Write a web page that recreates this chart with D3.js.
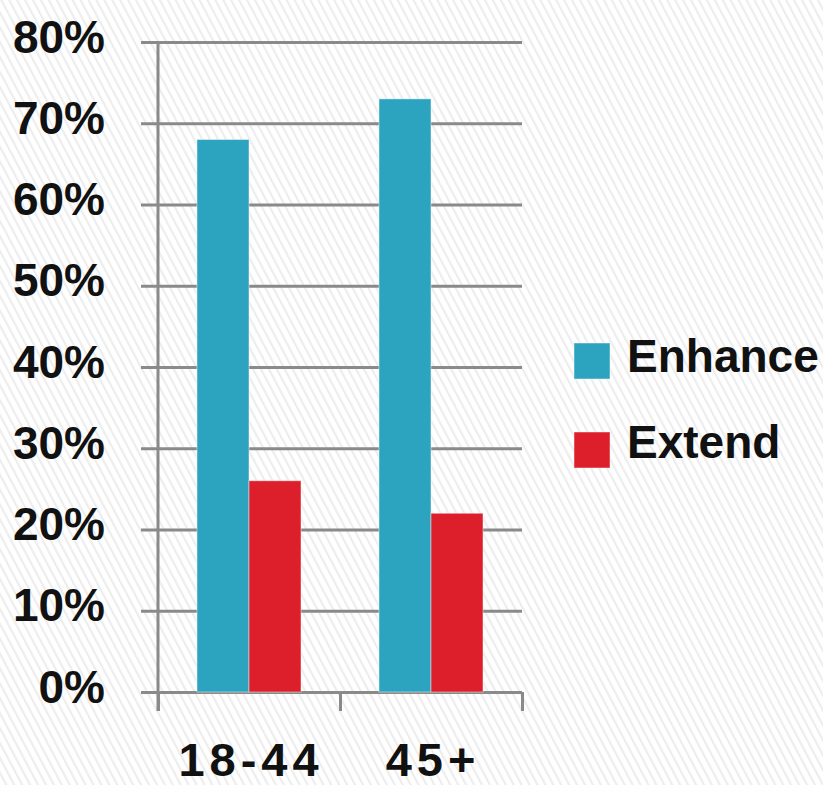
<!DOCTYPE html>
<html>
<head>
<meta charset="utf-8">
<script src="https://cdn.jsdelivr.net/npm/d3@7"></script>
<style>
  body { margin: 0; background: #fff; }
  text { font-family: "Liberation Sans", Arial, sans-serif; font-weight: bold; fill: #111; }
</style>
</head>
<body>
<div id="chart"></div>
<script>
// données
const ageGroups = ["18-44", "45+"];
const seriesNames = ["Enhance", "Extend"];
const enhanceValues = [0.68, 0.73];
const extendValues = [0.26, 0.22];
const yTicks = [0, 0.1, 0.2, 0.3, 0.4, 0.5, 0.6, 0.7, 0.8];
const seriesColors = ["#2ca3bf", "#dc1f2a"];

const width = 823;
const height = 785;

const svg = d3.select("#chart").append("svg")
  .attr("width", width)
  .attr("height", height);

// fond hachuré léger
const defs = svg.append("defs");
const pat = defs.append("pattern")
  .attr("id", "stripes")
  .attr("patternUnits", "userSpaceOnUse")
  .attr("width", 7)
  .attr("height", 7)
  .attr("patternTransform", "rotate(-28)");
pat.append("rect").attr("width", 7).attr("height", 7).attr("fill", "#fff");
pat.append("rect").attr("width", 2.2).attr("height", 7).attr("fill", "#ededed");

svg.append("rect")
  .attr("width", width)
  .attr("height", height)
  .attr("fill", "url(#stripes)");

const plotLeft = 158, plotRight = 522, plotTop = 42, plotBottom = 692;
const gridColor = "#8a8a8a";

const x = d3.scaleBand().domain(ageGroups).range([plotLeft, plotRight]);
const xInner = d3.scaleBand().domain(seriesNames).range([0, x.bandwidth()]).paddingOuter(0.75);
const y = d3.scaleLinear().domain([0, 0.8]).range([plotBottom, plotTop]);

// lignes de grille (avec petite graduation à gauche de l'axe)
const grid = svg.append("g")
  .attr("transform", `translate(${plotRight},0)`)
  .call(d3.axisLeft(y).tickValues(yTicks).tickSize(plotRight - 141).tickFormat(""));
grid.select(".domain").remove();
grid.selectAll("line").attr("stroke", gridColor).attr("stroke-width", 3);

// libellés de l'axe Y
const yLab = svg.append("g")
  .attr("transform", `translate(${plotLeft},0)`)
  .call(d3.axisLeft(y).tickValues(yTicks).tickSize(0).tickPadding(53).tickFormat(d3.format(".0%")));
yLab.select(".domain").remove();
yLab.selectAll("text")
  .attr("dy", "10px")
  .style("font-size", "46px")
  .style("font-family", "'Liberation Sans', Arial, sans-serif")
  .style("font-weight", "bold")
  .attr("fill", "#111");

// axe vertical
svg.append("line")
  .attr("x1", plotLeft).attr("x2", plotLeft)
  .attr("y1", plotTop).attr("y2", plotBottom + 19)
  .attr("stroke", gridColor).attr("stroke-width", 3);

// graduations de l'axe X (limites des groupes)
const xEdges = d3.scaleLinear().domain([0, ageGroups.length]).range([plotLeft, plotRight]);
const xAxis = svg.append("g")
  .attr("transform", `translate(0,${plotBottom})`)
  .call(d3.axisBottom(xEdges).tickValues(d3.range(ageGroups.length + 1)).tickSize(19).tickFormat(""));
xAxis.select(".domain").remove();
xAxis.selectAll("line").attr("stroke", gridColor).attr("stroke-width", 3);

// barres
const rows = ageGroups.map((g, i) => ({ group: g, values: [enhanceValues[i], extendValues[i]] }));

svg.append("g")
  .selectAll("g")
  .data(rows)
  .join("g")
  .attr("transform", d => `translate(${x(d.group)},0)`)
  .selectAll("rect")
  .data(d => d.values.map((v, j) => ({ name: seriesNames[j], value: v, color: seriesColors[j] })))
  .join("rect")
  .attr("x", d => xInner(d.name))
  .attr("width", xInner.bandwidth())
  .attr("y", d => y(d.value))
  .attr("height", d => y(0) - y(d.value))
  .attr("fill", d => d.color)
  .attr("stroke", "rgba(255,255,255,0.45)")
  .attr("stroke-width", 1);

// libellés des catégories
svg.append("g")
  .selectAll("text")
  .data(ageGroups)
  .join("text")
  .attr("x", d => x(d) + x.bandwidth() / 2 + 2)
  .attr("y", 776)
  .attr("text-anchor", "middle")
  .style("font-size", "47px")
  .style("letter-spacing", "5px")
  .text(d => d);

// légende
const legend = svg.append("g")
  .selectAll("g")
  .data(seriesNames)
  .join("g")
  .attr("transform", (d, i) => `translate(574,${343 + i * 89})`);

legend.append("rect")
  .attr("width", 36)
  .attr("height", 36)
  .attr("fill", (d, i) => seriesColors[i])
  .attr("stroke", "rgba(255,255,255,0.45)")
  .attr("stroke-width", 1);

legend.append("text")
  .attr("x", 53)
  .attr("y", (d, i) => i === 0 ? 29 : 26)
  .style("font-size", "46px")
  .text(d => d);
</script>
</body>
</html>
